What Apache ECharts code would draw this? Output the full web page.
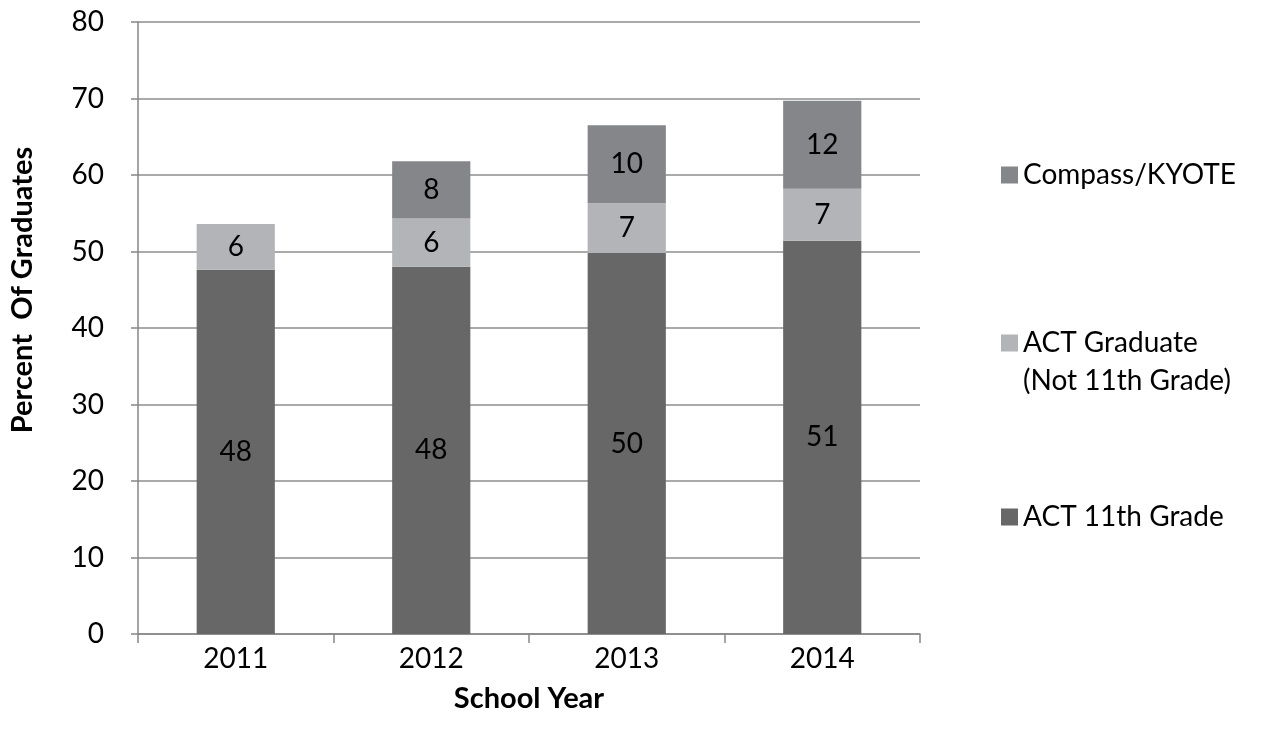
<!DOCTYPE html>
<html><head><meta charset="utf-8">
<script src="https://cdn.jsdelivr.net/npm/echarts@6/dist/echarts.min.js"></script>
<style>html,body{margin:0;padding:0;background:#fff}#c{width:1262px;height:736px}</style>
</head><body><div id="c"></div>
<script>
const categories = ['2011', '2012', '2013', '2014'];
const act11th = [47.6, 48.0, 49.8, 51.4];
const actGraduate = [6.0, 6.3, 6.5, 6.8];
const compass = [null, 7.5, 10.2, 11.5];
const seriesNames = ['ACT 11th Grade', 'ACT Graduate\n(Not 11th Grade)', 'Compass/KYOTE'];

const FONT = 'Lato, "Open Sans", sans-serif';
const colors = ['#676767', '#b3b4b7', '#858689'];
const lbl = {show: true, position: 'inside', color: '#000', fontSize: 28, fontFamily: FONT,
  formatter: p => Math.round(p.value)};
const chart = echarts.init(document.getElementById('c'));
const legendText = {color: '#000', fontSize: 28, fontFamily: FONT, lineHeight: 38};
const legendBase = {orient: 'vertical', itemWidth: 17, itemHeight: 17, itemGap: 0, icon: 'rect', textStyle: legendText, padding: 0, left: 1001};
chart.setOption({
  animation: false,
  grid: {left: 138, right: 342, top: 22, bottom: 102},
  legend: [
    Object.assign({}, legendBase, {data: [seriesNames[2]], top: 156}),
    Object.assign({}, legendBase, {data: [seriesNames[1]], top: 286, formatter: n => ' \n' + n}),
    Object.assign({}, legendBase, {data: [seriesNames[0]], top: 498})
  ],
  xAxis: {
    type: 'category', data: categories,
    name: 'School Year', nameLocation: 'middle', nameGap: 50,
    nameTextStyle: {fontWeight: 'bold', fontSize: 29, color: '#000', fontFamily: FONT},
    axisLine: {lineStyle: {color: '#868686', width: 1.5}},
    axisTick: {show: true, length: 9, lineStyle: {color: '#868686', width: 1.5}},
    axisLabel: {fontSize: 28, color: '#000', fontFamily: FONT, margin: 11}
  },
  yAxis: {
    type: 'value', min: 0, max: 80, interval: 10,
    name: 'Percent  Of Graduates', nameLocation: 'middle', nameGap: 101, nameRotate: 90,
    nameTextStyle: {fontWeight: 'bold', fontSize: 29, color: '#000', fontFamily: FONT, padding: [0, 0, 0, 76]},
    axisLine: {show: true, lineStyle: {color: '#868686', width: 1.5}},
    axisTick: {show: true, length: 7, lineStyle: {color: '#868686', width: 1.5}},
    axisLabel: {fontSize: 28, color: '#000', fontFamily: FONT, margin: 34},
    splitLine: {lineStyle: {color: '#8e8e8e', width: 1.5}}
  },
  series: [
    {name: seriesNames[0], type: 'bar', stack: 's', data: act11th, barWidth: '40%', itemStyle: {color: colors[0]}, label: lbl},
    {name: seriesNames[1], type: 'bar', stack: 's', data: actGraduate, itemStyle: {color: colors[1]}, label: lbl},
    {name: seriesNames[2], type: 'bar', stack: 's', data: compass, itemStyle: {color: colors[2]}, label: lbl}
  ]
});
</script></body></html>
